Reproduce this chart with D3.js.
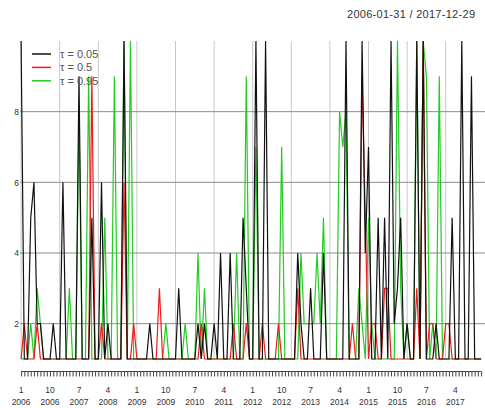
<!DOCTYPE html>
<html>
<head>
<meta charset="utf-8">
<script src="https://cdnjs.cloudflare.com/ajax/libs/d3/7.8.5/d3.min.js"></script>
<style>
  body { margin: 0; background: #fff; }
  text { font-family: "Liberation Sans", Arial, Helvetica, sans-serif; }
</style>
</head>
<body>
<div id="chart"></div>
<script>
var width = 485;
var height = 408;

// monthly series, 2006-01 .. 2017-12 (12 values per row)
var tau05 = [
  10,1,1,5,6,2,2,1,1,1,2,1,
  1,6,1,1,1,1,9,1,1,1,5,1,
  1,6,1,2,1,1,1,1,10,1,1,1,
  1,1,1,1,2,1,1,1,1,1,1,1,
  1,3,1,1,1,1,1,2,1,2,1,1,
  2,1,4,1,1,4,1,1,1,5,3,1,
  1,10,1,1,10,1,1,1,1,1,1,1,
  1,1,4,2,1,1,3,1,1,1,4,1,
  1,1,1,1,1,10,1,1,1,1,10,4,
  7,1,1,5,1,5,1,10,2,3,5,1,
  2,1,1,10,1,10,1,1,1,2,1,1,
  1,1,5,1,1,10,1,1,9,1,1,1
];
var tau50 = [
  1,2,1,1,1,2,1,1,1,1,1,1,
  1,1,1,1,1,1,1,1,1,1,9,1,
  1,2,1,1,1,1,1,1,6,1,1,2,
  1,1,1,1,1,1,1,3,1,1,1,1,
  1,1,1,1,1,1,1,1,2,1,1,1,
  1,1,1,1,1,1,2,1,1,1,2,1,
  1,1,1,2,1,1,1,1,2,1,1,1,
  1,1,3,1,1,1,1,1,1,1,1,1,
  1,1,1,1,1,1,1,2,1,1,9,5,
  1,2,2,1,1,3,3,1,1,1,1,1,
  1,1,1,3,1,10,1,2,2,1,1,1,
  2,2,1,1,1,1,1,1,1,1,1,1
];
var tau95 = [
  1,1,1,2,1,3,2,1,1,1,1,1,
  1,1,1,3,1,1,8,1,1,9,1,1,
  1,1,5,1,1,9,1,1,10,1,10,1,
  1,1,1,1,1,1,1,1,1,2,1,1,
  1,1,1,2,1,1,1,4,1,3,1,1,
  1,1,1,1,1,1,1,4,1,1,9,1,
  1,7,1,1,1,1,1,1,1,7,1,1,
  1,1,1,4,2,2,2,2,4,2,5,1,
  1,1,1,8,7,8,1,1,1,3,2,1,
  5,2,1,1,1,1,1,1,1,10,3,1,
  2,1,1,10,1,10,9,1,2,1,9,1,
  1,1,1,1,1,1,1,1,1,1,1,1
];

var seriesNames = ["\u03c4 = 0.05", "\u03c4 = 0.5", "\u03c4 = 0.95"];
var seriesColors = ["#111111", "#ee1c1c", "#22cc22"];
var yTicks = [2, 4, 6, 8];
var startYear = 2006;
var dateRange = "2006-01-31 / 2017-12-29";

var nMonths = tau05.length;

var svg = d3.select('#chart')
    .append('svg')
        .attr('width', width)
        .attr('height', height);

var x = d3.scaleLinear()
    .domain([0, nMonths - 1])
    .range([21.1, 481.1]);

var y = d3.scaleLinear()
    .domain([1, 10])
    .range([359, 41]);

// grid
var januaries = d3.range(0, nMonths, 12);

svg.append('g')
    .selectAll('line')
    .data(januaries)
    .enter()
    .append('line')
        .attr('x1', d => x(d))
        .attr('x2', d => x(d))
        .attr('y1', y(10))
        .attr('y2', y(1))
        .attr('stroke', '#c8c8c8')
        .attr('stroke-width', 1);

svg.append('g')
    .selectAll('line')
    .data(yTicks)
    .enter()
    .append('line')
        .attr('x1', 20)
        .attr('x2', width)
        .attr('y1', d => y(d))
        .attr('y2', d => y(d))
        .attr('stroke', '#8c8c8c')
        .attr('stroke-width', 1);

// y labels
var yAxis = svg.append('g')
    .attr('transform', 'translate(19, 0)')
    .call(d3.axisLeft(y).tickValues(yTicks).tickSize(0).tickPadding(0));

yAxis.select('.domain').remove();
yAxis.selectAll('text')
    .attr('font-size', '8.5px')
    .attr('fill', '#333');

// series lines, last column drawn first so black ends up on top
var line = d3.line()
    .x((d, i) => x(i))
    .y(d => y(Math.min(d, 10)));

var allSeries = [tau05, tau50, tau95];

svg.append('g')
    .selectAll('path')
    .data(allSeries.map((s, i) => ({ values: s, color: seriesColors[i] })).reverse())
    .enter()
    .append('path')
        .attr('d', d => line(d.values))
        .attr('fill', 'none')
        .attr('stroke', d => d.color)
        .attr('stroke-width', 1.2)
        .attr('stroke-linejoin', 'miter');

// month ticks
var xAxis = svg.append('g')
    .attr('transform', 'translate(0, 371.5)')
    .call(d3.axisBottom(x).tickValues(d3.range(nMonths)).tickSize(5).tickFormat(''));

xAxis.select('.domain')
    .attr('stroke', '#444')
    .attr('d', 'M' + x(0) + ',0H' + x(nMonths - 1));
xAxis.selectAll('.tick line')
    .attr('stroke', '#444');

var labelIdx = d3.range(0, nMonths, 9);

var xLabels = svg.append('g')
    .selectAll('g')
    .data(labelIdx)
    .enter()
    .append('g')
        .attr('transform', d => 'translate(' + x(d) + ',0)');

xLabels.append('text')
    .attr('y', 392.5)
    .attr('text-anchor', 'middle')
    .attr('font-size', '8.5px')
    .attr('fill', '#333')
    .text(d => (d % 12) + 1);

xLabels.append('text')
    .attr('y', 405)
    .attr('text-anchor', 'middle')
    .attr('font-size', '8.5px')
    .attr('fill', '#333')
    .text(d => startYear + Math.floor(d / 12));

// title (date range)
svg.append('text')
    .attr('x', 475)
    .attr('y', 18)
    .attr('text-anchor', 'end')
    .attr('font-size', '11px')
    .attr('fill', '#333')
    .attr('textLength', 128)
    .attr('lengthAdjust', 'spacing')
    .text(dateRange);

// legend
var legend = svg.append('g')
    .attr('transform', 'translate(32, 54)');

var legendRow = legend.selectAll('.legendRow')
    .data(seriesNames.map((n, i) => ({ label: n, color: seriesColors[i] })))
    .enter()
    .append('g')
        .attr('class', 'legendRow')
        .attr('transform', (d, i) => 'translate(0, ' + (i * 13.4) + ')');

legendRow.append('line')
    .attr('x1', 0)
    .attr('x2', 19)
    .attr('stroke', d => d.color)
    .attr('stroke-width', 1.5);

legendRow.append('text')
    .attr('x', 28)
    .attr('y', 4)
    .attr('font-size', '11px')
    .attr('fill', '#555')
    .text(d => d.label);
</script>
</body>
</html>
